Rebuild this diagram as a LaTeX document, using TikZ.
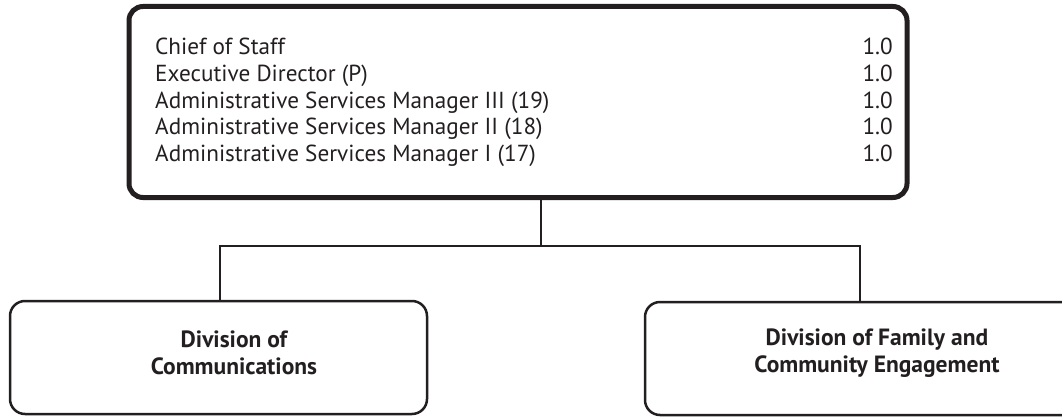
\documentclass[tikz,border=0pt]{standalone}
\usepackage{fontspec}
\setmainfont{PT Sans}
\definecolor{ink}{HTML}{231F20}
\begin{document}
\begin{tikzpicture}[x=1pt,y=1pt,
  topbox/.style={draw=ink,line width=5pt,rounded corners=14pt,minimum width=778pt,minimum height=191pt,inner sep=0pt},
  divbox/.style={draw=ink,line width=2.5pt,rounded corners=15pt,minimum height=113pt,inner sep=0pt},
  conn/.style={draw=ink,line width=2.6pt},
  item/.style={anchor=base west,inner sep=0pt,font=\fontsize{23.2}{26}\selectfont,text=ink},
  fte/.style={anchor=base east,inner sep=0pt,font=\fontsize{23.2}{26}\selectfont,text=ink},
  divtext/.style={align=center,inner sep=0pt,font=\fontsize{23.5}{27}\selectfont\bfseries,text=ink}]
\useasboundingbox (0,0) rectangle (1062,416);
\node[topbox] (top) at (518,314) {};
\node[item] (t1) at (155,361) {Chief of Staff};
\node[item] (t2) at (155,334.5) {Executive Director (P)};
\node[item] (t3) at (155,308) {Administrative Services Manager III (19)};
\node[item] (t4) at (155,281.5) {Administrative Services Manager II (18)};
\node[item] (t5) at (155,255) {Administrative Services Manager I (17)};
\node[fte] (n1) at (893,361) {1.0};
\node[fte] (n2) at (893,334.5) {1.0};
\node[fte] (n3) at (893,308) {1.0};
\node[fte] (n4) at (893,281.5) {1.0};
\node[fte] (n5) at (893,255) {1.0};
\node[divbox,minimum width=417pt] (lbox) at (218.5,58.5) {};
\node[divtext] (ltext) at (234,63) {Division of\\Communications};
\node[divbox,minimum width=465pt] (rbox) at (877.5,57.5) {};
\node[divtext] (rtext) at (877,63) {Division of Family and\\Community Engagement};
\coordinate (jm) at (541,170);
\coordinate (jl) at (220,170);
\coordinate (jr) at (860,170);
\draw[conn] (jm |- top.south) -- (jm);
\draw[conn] (lbox.north -| jl) -- (jl) -- (jr) -- (rbox.north -| jr);
\end{tikzpicture}
\end{document}
